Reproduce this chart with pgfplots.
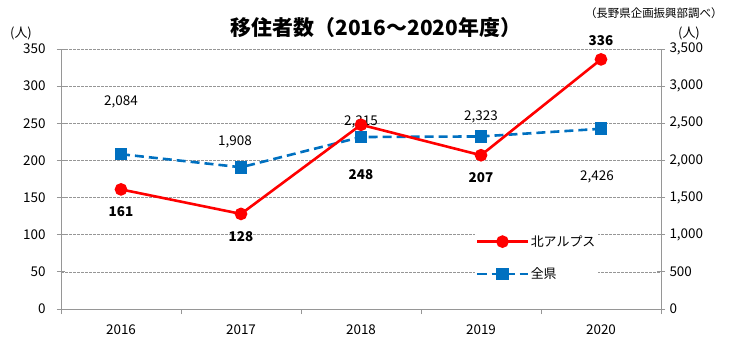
\documentclass[border=0pt]{standalone}
\usepackage{pgfplots}
\pgfplotsset{compat=1.18}
\usepackage{fontspec}
\setmainfont{Noto Sans CJK JP}
\definecolor{myred}{RGB}{255,0,0}
\definecolor{myblue}{RGB}{0,112,192}
\definecolor{axgray}{RGB}{150,150,150}
\begin{document}
\begin{tikzpicture}
\useasboundingbox (0,0) rectangle (729bp,338bp);
\pgfplotsset{
  every axis/.append style={
    scale only axis, width=600bp, height=260bp,
    at={(61bp,29bp)}, anchor=south west,
    xmin=-0.5, xmax=4.5,
    /pgf/number format/assume math mode=true,
    tick label style={font=\fontsize{13.5}{15}\selectfont},
    axis line style={axgray, line width=0.8pt},
    tick style={axgray, line width=0.8pt},
  },
  lg/.style={legend image code/.code={
      \draw[##1,mark=none] (0bp,0bp) -- (50bp,0bp);
      \draw[##1,solid] plot coordinates {(25bp,0bp)};}},
}
\begin{axis}[
  ymin=0, ymax=3500, ytick={0,500,...,3500},
  axis y line*=right, axis x line=none,
  ytick align=center, major tick length=8bp,
  ymajorgrids, grid style={axgray, dashed, dash pattern=on 2.5bp off 1.5bp, line width=0.6pt},
  yticklabel style={xshift=1bp},
  /pgf/number format/1000 sep={,},
  clip=false,
]
\addplot[myblue, line width=2.6pt, dashed, dash pattern=on 9bp off 5bp, mark=square*, mark size=5bp, mark options={solid}] coordinates {(0,2084)(1,1908)(2,2315)(3,2323)(4,2426)};
\node[font=\fontsize{13.5}{15}\selectfont, yshift=52bp] at (axis cs:0,2084) {2,084};
\node[font=\fontsize{13.5}{15}\selectfont, yshift=25bp, xshift=-6bp] at (axis cs:1,1908) {1,908};
\node[font=\fontsize{13.5}{15}\selectfont, yshift=15bp] at (axis cs:2,2315) {2,315};
\node[font=\fontsize{13.5}{15}\selectfont, yshift=20bp] at (axis cs:3,2323) {2,323};
\node[font=\fontsize{13.5}{15}\selectfont, yshift=-48bp, xshift=-4bp] at (axis cs:4,2426) {2,426};
\node[font=\fontsize{13}{15}\selectfont, anchor=south] at (rel axis cs:1,1.0) [xshift=28bp, yshift=5bp] {(人)};
\end{axis}
\begin{axis}[
  ymin=0, ymax=350, ytick={0,50,...,350},
  axis x line*=bottom, axis y line*=left,
  xtick={0,1,2,3,4}, xticklabels={2016,2017,2018,2019,2020},
  major x tick style={draw=none},
  minor xtick={-0.5,0.5,1.5,2.5,3.5,4.5},
  minor tick length=5bp, xtick align=outside,
  ytick align=center, major tick length=8bp,
  xticklabel style={yshift=-4bp},
  yticklabel style={xshift=-8bp},
  legend style={at={(0.69,0.295)}, anchor=north west, draw=none, fill=white,
     font=\fontsize{13}{15}\selectfont, row sep=16bp, inner sep=1bp,
     legend cell align=left},
  lg,
  clip=false,
]
\addplot[myred, line width=2.6pt, mark=*, mark size=5bp] coordinates {(0,161)(1,128)(2,248)(3,207)(4,336)};
\addlegendentry{北アルプス}
\addlegendimage{myblue, line width=2.6pt, dashed, dash pattern=on 9bp off 5bp, mark=square*, mark size=5bp}
\addlegendentry{全県}
\node[font=\fontsize{13.5}{15}\selectfont\bfseries, yshift=-22bp] at (axis cs:0,161) {161};
\node[font=\fontsize{13.5}{15}\selectfont\bfseries, yshift=-23bp] at (axis cs:1,128) {128};
\node[font=\fontsize{13.5}{15}\selectfont\bfseries, yshift=-50bp] at (axis cs:2,248) {248};
\node[font=\fontsize{13.5}{15}\selectfont\bfseries, yshift=-22bp] at (axis cs:3,207) {207};
\node[font=\fontsize{13.5}{15}\selectfont\bfseries, yshift=19bp] at (axis cs:4,336) {336};
\node[font=\fontsize{13}{15}\selectfont, anchor=south] at (rel axis cs:0,1.0) [xshift=-40bp, yshift=5bp] {(人)};
\end{axis}
\node[font=\fontsize{21}{24}\selectfont\bfseries] at (376bp,310bp) {移住者数（2016～2020年度）};
\node[font=\fontsize{11.5}{13}\selectfont, anchor=east] at (726bp,325bp) {（長野県企画振興部調べ）};
\end{tikzpicture}
\end{document}
